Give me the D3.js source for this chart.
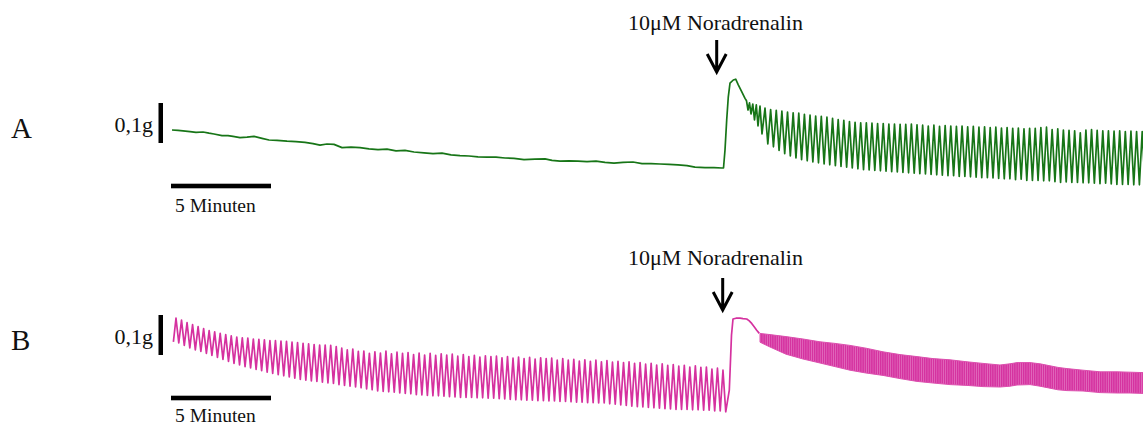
<!DOCTYPE html>
<html>
<head>
<meta charset="utf-8">
<script src="https://cdn.jsdelivr.net/npm/d3@7"></script>
<style>
  body { margin: 0; background: #fff; }
  svg { display: block; }
  text { font-family: "Liberation Serif", "Times New Roman", serif; fill: #111; }
</style>
</head>
<body>
<svg id="chart"></svg>
<script>
// time in minutes, force in mg (relative to lowest point of each trace)

// ---- Trace A: quiet baseline, then noradrenaline response ----
const aBaseT = [0,0.3,0.55,0.9,1.2,1.55,1.85,2.1,2.5,2.8,3.05,3.4,3.75,4.1,4.5,4.85,5.25,5.75,6.2,6.65,7.05,7.4,7.75,8.1,8.5,8.95,9.4,9.85,10.3,10.75,11.2,11.65,12.1,12.6,13.05,13.5,13.95,14.4,14.85,15.3,15.75,16.2,16.65,17.1,17.6,18.15,18.65,19,19.4,19.85,20.3,20.75,21.2,21.65,22.1,22.55,23.05,23.5,23.95,24.4,24.85,25.3,25.75,26.15,26.65,27.1,27.5];
const aBaseF = [150,149,148,146,144,145,142,140,136,136,134,131,132,134,129,125,124,122,121,119,116,112,115,114,106,107,106,103,101,102,98,99,95,93,91,92,88,86,85,83,82,82,80,79,76,77,78,74,72,73,72,71,72,69,67,69,70,66,66,65,64,63,61,57,56,56,55];

const aOnsetT = [27.575,27.65,27.735,27.815,27.9,28.065,28.185,28.315,28.485,28.65,28.725,28.8,28.875,28.95,29.04,29.125,29.215,29.3,29.4,29.5];
const aOnsetF = [55,100,175,233,267,275,277,263,246,229,223,200,218,190,215,175,213,160,210,140];

// rhythmic contractions: one peak + one trough per cycle
const aCycleStart = 29.65, aCyclePeriod = 0.2815;
const aPeaks = [205,201,199,197,195,193,192,189,187,185,184,182,179,176,174,171,169,168,168,167,166,166,165,165,
  164,164,165,163,162,160,162,159,161,160,159,160,158,159,157,158,156,157,155,156,154,155,153,154,154,156,157,151,153,150,149,148,143,150,151,149,148,148,147,148,146,147,146,146];
const aTroughs = [115,108,99,91,85,80,76,73,70,68,65,63,61,59,57,55,53,51,50,49,48,47,46,45,44,43,42,41,40,39,
  38,37,36,36,34,34,33,32,31,31,30,29,28,28,26,27,24,24,24,23,23,21,19,20,19,19,18,18,17,16,17,15,14,14,14,13,13,13];

// ---- Trace B: spontaneous contractions, then noradrenaline response ----
const bLeadT = [0.07], bLeadF = [183];
const bCycleStart = 0.2, bCyclePeriod = 0.27625;
const bPeaks = [242,237,231,226,221,216,211,208,204,201,
  198,195,193,192,190,189,188,186,186,185,
  184,182,181,179,178,176,175,175,174,171,
  167,163,165,159,160,154,158,155,160,153,
  157,154,156,151,155,150,154,149,153,150,
  152,147,151,146,149,145,148,146,147,143,
  146,142,145,141,144,140,143,141,142,137,
  141,137,139,135,138,134,137,133,136,132,
  134,131,133,129,131,127,129,125,128,124,
  126,122,124,120,123,119,120,115,117,112];
const bTroughs = [180,174,168,163,159,154,149,144,139,134,
  129,125,121,118,114,111,107,104,101,98,
  95,92,89,87,85,84,82,80,79,76,
  74,72,70,68,65,63,60,59,58,57,
  55,54,53,51,50,49,48,48,47,46,
  45,44,44,44,43,43,42,42,41,40,
  39,38,38,37,37,36,36,35,35,34,
  34,33,32,32,31,31,30,30,28,27,
  25,24,22,21,20,19,18,17,16,15,
  14,14,14,13,13,12,12,10,10,8];

const bRiseT = [27.865,27.925,27.975,28.05,28.2,28.4,28.55,28.735,28.85,28.985,29.1,29.235,29.365];
const bRiseF = [62,137,200,240,242,242,241,240,236,229,221,212,204];

// fast small contractions after the tone peak: drawn as upper / lower envelope
const bBandT = [29.4,29.9,30.7,31.55,32.4,33.15,33.9,34.7,35.55,36.4,37.25,38.05,38.9,39.75,40.55,41.4,41.9,42.25,42.9,43.4,43.9,44.3,44.75,45.55,46.4,47.25,47.9,48.55];
const bBandTop = [204,201,196,190,183,179,174,167,158,151,146,141,138,133,129,125,128,131,131,128,123,119,116,112,108,108,107,106];
const bBandBottom = [182,170,152,140,130,121,112,105,99,91,84,80,76,74,71,70,72,75,76,72,67,63,61,60,56,55,55,54];

// annotations
const doseLabel = "10\u03bcM Noradrenalin";
const doseTimeA = 27.235, doseTimeB = 27.535;
const forceBar = 100;        // mg -> "0,1g"
const timeBar = 5;           // min
const forceBarLabel = "0,1g";
const timeBarLabel = "5 Minuten";

// --------------------------------------------------
const W = 1143, H = 428;
const svg = d3.select('#chart').attr('width', W).attr('height', H);

const x = d3.scaleLinear().domain([0, timeBar]).range([172, 272]);
const yA = d3.scaleLinear().domain([0, forceBar]).range([190, 150]);
const yB = d3.scaleLinear().domain([0, forceBar]).range([415, 375]);

function cyclePoints(start, period, peaks, troughs) {
  const pts = [];
  peaks.forEach((p, i) => {
    pts.push([start + i * period, p]);
    if (troughs[i] != null) pts.push([start + (i + 0.5) * period, troughs[i]]);
  });
  return pts;
}
const zipTF = (T, F) => T.map((t, i) => [t, F[i]]);

const ptsA = [].concat(
  zipTF(aBaseT, aBaseF),
  zipTF(aOnsetT, aOnsetF),
  cyclePoints(aCycleStart, aCyclePeriod, aPeaks, aTroughs)
);
const ptsB = [].concat(
  zipTF(bLeadT, bLeadF),
  cyclePoints(bCycleStart, bCyclePeriod, bPeaks, bTroughs),
  zipTF(bRiseT, bRiseF)
);

const green = '#177517', pink = '#d5319f';

// stripe texture for the dense band
const defs = svg.append('defs');
const pat = defs.append('pattern').attr('id', 'stripes')
  .attr('patternUnits', 'userSpaceOnUse').attr('width', 2.2).attr('height', 10);
pat.append('rect').attr('width', 2.2).attr('height', 10).attr('fill', pink);
pat.append('rect').attr('x', 1.4).attr('width', 0.8).attr('height', 10).attr('fill', '#e16bbd');

svg.append('path')
  .attr('d', d3.line().x(d => x(d[0])).y(d => yA(d[1]))(ptsA))
  .attr('fill', 'none').attr('stroke', green)
  .attr('stroke-width', 1.7).attr('stroke-linejoin', 'round');

svg.append('path')
  .attr('d', d3.line().x(d => x(d[0])).y(d => yB(d[1]))(ptsB))
  .attr('fill', 'none').attr('stroke', pink)
  .attr('stroke-width', 1.7).attr('stroke-linejoin', 'round');

const band = bBandT.map((t, i) => ({ t, top: bBandTop[i], bot: bBandBottom[i] }));
svg.append('path')
  .attr('d', d3.area().x(d => x(d.t)).y0(d => yB(d.bot)).y1(d => yB(d.top))(band))
  .attr('fill', 'url(#stripes)').attr('stroke', '#dc4fae').attr('stroke-width', 1);

// panel furniture
const panels = [
  { label: 'A', y: yA, labelY: 138, barTop: 103, hBarY: 186, minY: 212, doseY: 30, arrowTop: 40, arrowBot: 72, doseT: doseTimeA },
  { label: 'B', y: yB, labelY: 350, barTop: 315, hBarY: 398, minY: 422, doseY: 265, arrowTop: 278, arrowBot: 310, doseT: doseTimeB }
];

panels.forEach(p => {
  svg.append('text').attr('x', 11).attr('y', p.labelY)
    .style('font-size', '29px').text(p.label);

  const barLen = p.y(0) - p.y(forceBar);
  svg.append('rect').attr('x', 158.5).attr('y', p.barTop)
    .attr('width', 4.5).attr('height', barLen).attr('fill', '#000');
  svg.append('text').attr('x', 153).attr('y', p.barTop + 29)
    .attr('text-anchor', 'end').style('font-size', '22px').text(forceBarLabel);

  svg.append('rect').attr('x', 171).attr('y', p.hBarY - 2.3)
    .attr('width', x(timeBar) - x(0)).attr('height', 4.6).attr('fill', '#000');
  svg.append('text').attr('x', 175).attr('y', p.minY)
    .style('font-size', '19.5px').text(timeBarLabel);

  const ax = x(p.doseT);
  svg.append('text').attr('x', 715.5).attr('y', p.doseY)
    .attr('text-anchor', 'middle').style('font-size', '22px').text(doseLabel);
  svg.append('path')
    .attr('d', `M${ax},${p.arrowTop}V${p.arrowBot}M${ax - 9.5},${p.arrowBot - 18}L${ax},${p.arrowBot}L${ax + 9.5},${p.arrowBot - 18}`)
    .attr('fill', 'none').attr('stroke', '#000').attr('stroke-width', 3)
    .attr('stroke-linejoin', 'miter');
});
</script>
</body>
</html>
